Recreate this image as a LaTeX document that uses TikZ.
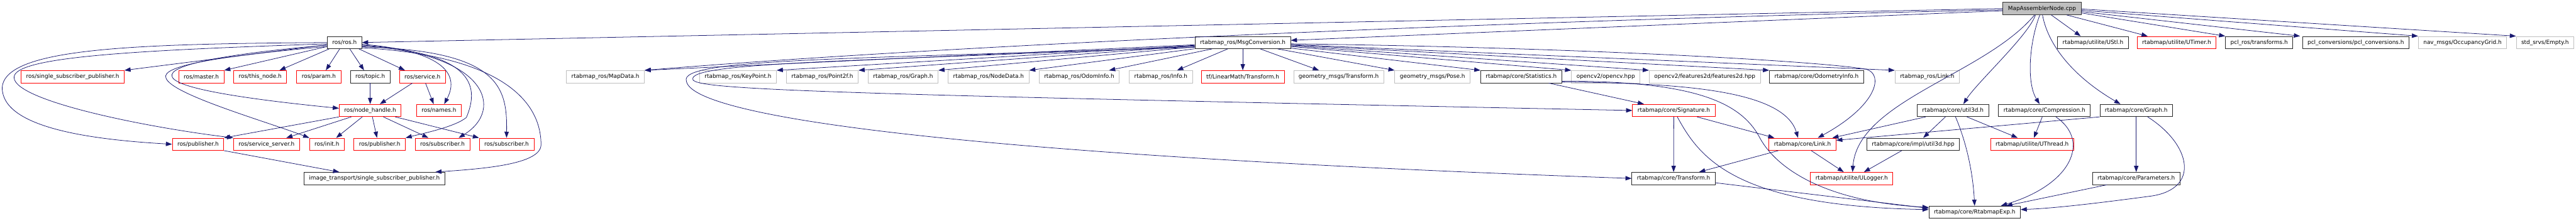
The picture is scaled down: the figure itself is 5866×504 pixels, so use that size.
\documentclass[tikz,border=0pt]{standalone}
\usepackage{fontspec}
\setmainfont{DejaVu Sans}
\usetikzlibrary{arrows.meta,calc,positioning}
\definecolor{depblue}{HTML}{191970}
\definecolor{boxgray}{HTML}{BFBFBF}

\begin{document}
\begin{tikzpicture}[
    x=1pt,
    y=-1pt,
    every node/.style={inner xsep=11.5pt, inner ysep=0pt, minimum height=28pt,
        line width=1.2pt, font=\fontsize{12.8}{15}\selectfont},
    redbox/.style={draw=red},
    blackbox/.style={draw=black!85},
    graybox/.style={draw=boxgray},
    rootbox/.style={draw=black!80, fill=boxgray},
    dep/.style={draw=depblue, line width=1.1pt, -{Triangle[length=14pt,width=10pt]}}
]
\useasboundingbox (0,0) rectangle (5866,504);


% Row 0
\node[rootbox] (root) at (4650,19.5) {MapAssemblerNode.cpp};


% Row 1
\node[blackbox] (rosros) at (784.5,97) {ros/ros.h};
\node[blackbox] (msgconv) at (2830,97) {rtabmap\_ros/MsgConversion.h};
\node[blackbox] (ustl) at (4766,97) {rtabmap/utilite/UStl.h};
\node[redbox] (utimer) at (4956.5,97) {rtabmap/utilite/UTimer.h};
\node[blackbox] (pclros) at (5144.5,97) {pcl\_ros/transforms.h};
\node[blackbox] (pclconv) at (5364.5,97) {pcl\_conversions/pcl\_conversions.h};
\node[graybox] (occgrid) at (5607.5,97) {nav\_msgs/OccupancyGrid.h};
\node[graybox] (empty) at (5795.5,97) {std\_srvs/Empty.h};


% Row 2
\node[redbox] (rossingle) at (165.5,175) {ros/single\_subscriber\_publisher.h};
\node[redbox] (master) at (458.5,175) {ros/master.h};
\node[redbox] (thisnode) at (592.5,175) {ros/this\_node.h};
\node[redbox] (param) at (726,175) {ros/param.h};
\node[blackbox] (topic) at (843,175) {ros/topic.h};
\node[redbox] (service) at (962,175) {ros/service.h};
\node[graybox] (mapdata) at (1378.5,175) {rtabmap\_ros/MapData.h};
\node[graybox] (keypoint) at (1680.5,175) {rtabmap\_ros/KeyPoint.h};
\node[graybox] (point2f) at (1872.5,175) {rtabmap\_ros/Point2f.h};
\node[graybox] (graphmsg) at (2056.5,175) {rtabmap\_ros/Graph.h};
\node[graybox] (nodedata) at (2251,175) {rtabmap\_ros/NodeData.h};
\node[graybox] (odominfo) at (2457.5,175) {rtabmap\_ros/OdomInfo.h};
\node[graybox] (info) at (2643.5,175) {rtabmap\_ros/Info.h};
\node[redbox] (tftrans) at (2830,175) {tf/LinearMath/Transform.h};
\node[graybox] (geotrans) at (3048.5,175) {geometry\_msgs/Transform.h};
\node[graybox] (geopose) at (3262,175) {geometry\_msgs/Pose.h};
\node[blackbox] (stats) at (3464,175) {rtabmap/core/Statistics.h};
\node[graybox] (opencv) at (3656.5,175) {opencv2/opencv.hpp};
\node[graybox] (features) at (3882,175) {opencv2/features2d/features2d.hpp};
\node[blackbox] (odometry) at (4136.5,175) {rtabmap/core/OdometryInfo.h};
\node[graybox] (roslink) at (4388.5,175) {rtabmap\_ros/Link.h};


% Row 3
\node[redbox] (nodehandle) at (843,252) {ros/node\_handle.h};
\node[redbox] (names) at (999.5,252) {ros/names.h};
\node[redbox] (signature) at (3811.5,252) {rtabmap/core/Signature.h};
\node[blackbox] (util3d) at (4447,252) {rtabmap/core/util3d.h};
\node[blackbox] (compression) at (4655.5,252) {rtabmap/core/Compression.h};
\node[blackbox] (coregraph) at (4864.5,252) {rtabmap/core/Graph.h};


% Row 4
\node[redbox] (pubA) at (451,329) {ros/publisher.h};
\node[redbox] (srvserver) at (607,329) {ros/service\_server.h};
\node[redbox] (init) at (744.5,329) {ros/init.h};
\node[redbox] (pubB) at (864.5,329) {ros/publisher.h};
\node[redbox] (subA) at (1007.5,329) {ros/subscriber.h};
\node[redbox] (subB) at (1153.5,329) {ros/subscriber.h};
\node[redbox] (corelink) at (4104.5,329) {rtabmap/core/Link.h};
\node[blackbox] (util3dhpp) at (4356.5,329) {rtabmap/core/impl/util3d.hpp};
\node[redbox] (uthread) at (4627.5,329) {rtabmap/utilite/UThread.h};


% Row 5
\node[blackbox] (imgsingle) at (852.5,407) {image\_transport/single\_subscriber\_publisher.h};
\node[blackbox] (coretrans) at (3811,407) {rtabmap/core/Transform.h};
\node[redbox] (ulogger) at (4216.5,407) {rtabmap/utilite/ULogger.h};
\node[blackbox] (params) at (4864.5,407) {rtabmap/core/Parameters.h};


% Row 6
\node[blackbox] (rtabexp) at (4496.5,484) {rtabmap/core/RtabmapExp.h};


% Includes of the node file
\draw[dep] (root.west) -- (rosros.east);
\draw[dep] ([yshift=-3pt]root.west) .. controls (3500,45) and (2200,100) .. (mapdata.north east);
\draw[dep] ([yshift=-5pt]root.west) -- ([yshift=5pt]msgconv.east);
\draw[dep] ([xshift=-15pt]root.south) .. controls (4620,80) and (4500,190) .. ([xshift=24pt]util3d.north);
\draw[dep] ([xshift=-17pt]root.south) .. controls (4520,170) and (4230,230) .. ([xshift=2pt]ulogger.north);
\draw[dep] ([xshift=-5pt]root.south) .. controls (4620,100) and (4615,190) .. ([xshift=-11pt]compression.north);
\draw[dep] ([xshift=1pt]root.south) .. controls (4665,110) and (4730,180) .. ([xshift=-36pt]coregraph.north);
\draw[dep] ([xshift=21pt]root.south) -- ([xshift=-28pt]ustl.north);
\draw[dep] ([xshift=56pt]root.south) -- ([xshift=-66pt]utimer.north);
\draw[dep] ([yshift=-10pt]root.east) -- (pclros.north west);
\draw[dep] ([yshift=-7pt]root.east) -- ([xshift=-5pt]pclconv.north west);
\draw[dep] ([yshift=-4pt]root.east) -- (occgrid.north west);
\draw[dep] ([yshift=-1pt]root.east) -- (empty.north west);


% MsgConversion
\draw[dep] (msgconv) -- (mapdata.north east);
\draw[dep] (msgconv) -- (keypoint.north east);
\draw[dep] (msgconv) -- (point2f.north east);
\draw[dep] (msgconv) -- (graphmsg.north east);
\draw[dep] (msgconv) -- (nodedata.north east);
\draw[dep] (msgconv) -- ([xshift=68pt]odominfo.north);
\draw[dep] (msgconv) -- ([xshift=37pt]info.north);
\draw[dep] (msgconv) -- (tftrans);
\draw[dep] (msgconv) -- ([xshift=-45pt]geotrans.north);
\draw[dep] (msgconv) -- (geopose.north west);
\draw[dep] (msgconv) -- (stats.north west);
\draw[dep] (msgconv) -- (opencv.north west);
\draw[dep] (msgconv) -- (features.north west);
\draw[dep] (msgconv) -- (odometry.north west);
\draw[dep] (msgconv) -- (roslink.north west);
\draw[dep] ([yshift=-8pt]msgconv.west) .. controls (2000,140) and (1560,140) .. (1578,182)
    .. controls (1590,205) and (1900,215) .. (signature.west);
\draw[dep] ([yshift=-11pt]msgconv.west) .. controls (1900,135) and (1545,135) .. (1563,185)
    .. controls (1575,260) and (2100,350) .. (coretrans.west);
\draw[dep] ([yshift=-3pt]msgconv.east) .. controls (3600,108) and (4150,140) .. (4250,158)
    .. controls (4290,170) and (4275,240) .. ([xshift=35pt]corelink.north);


% rtabmap core
\draw[dep] ([xshift=63pt]stats.south) -- ([xshift=-68pt]signature.north);
\draw[dep] ([yshift=-12pt]stats.east) .. controls (3800,190) and (4060,200) .. ([xshift=-10pt]corelink.north);
\draw[dep] ([yshift=-10pt]stats.east) .. controls (3850,185) and (3960,230) .. (4005,310)
    .. controls (4040,380) and (4150,460) .. ([yshift=11pt]rtabexp.west);

\draw[dep] (signature) -- (coretrans);
\draw[dep] ([xshift=53pt]signature.south) -- ([xshift=-64pt]corelink.north);
\draw[dep] ([xshift=8pt]signature.south) .. controls (3870,360) and (3950,470) .. ([yshift=6pt]rtabexp.west);
\draw[dep] ([yshift=-10pt]coretrans.east) -- ([yshift=9pt]rtabexp.west);

\draw[dep] ([xshift=-55pt]corelink.south) -- ([xshift=58pt]coretrans.north);
\draw[dep] ([xshift=20pt]corelink.south) -- ([xshift=-18pt]ulogger.north);
\draw[dep] ([xshift=-26pt]util3dhpp.south) -- ([xshift=28pt]ulogger.north);

\draw[dep] ([xshift=-62pt]util3d.south) -- ([xshift=68pt]corelink.north);
\draw[dep] ([xshift=-17pt]util3d.south) -- ([xshift=23pt]util3dhpp.north);
\draw[dep] ([xshift=32pt]util3d.south) -- ([xshift=-33pt]uthread.north);
\draw[dep] ([xshift=6pt]util3d.south) .. controls (4480,330) and (4493,400) .. (rtabexp.north);

\draw[dep] ([xshift=-5pt]compression.south) -- ([xshift=4pt]uthread.north);
\draw[dep] ([xshift=26pt]compression.south) .. controls (4760,320) and (4720,420) .. ([xshift=60pt]rtabexp.north);

\draw[dep] (coregraph) -- (params);
\draw[dep] (coregraph.south west) -- ([yshift=9pt]corelink.east);
\draw[dep] ([xshift=26pt]coregraph.south) .. controls (4990,330) and (5010,430) .. (4900,447)
    .. controls (4780,463) and (4680,475) .. ([yshift=6pt]rtabexp.east);
\draw[dep] ([xshift=-67pt]params.south) -- ([xshift=72pt]rtabexp.north);


% ros headers
\draw[dep] (rosros) -- (rossingle.north east);
\draw[dep] (rosros) -- (master.north east);
\draw[dep] ([xshift=-35pt]rosros.south) -- ([xshift=44pt]thisnode.north);
\draw[dep] ([xshift=-11pt]rosros.south) -- ([xshift=16pt]param.north);
\draw[dep] ([xshift=12pt]rosros.south) -- ([xshift=-14pt]topic.north);
\draw[dep] ([xshift=33pt]rosros.south) -- ([xshift=-40pt]service.north);

\draw[dep] (rosros.west) .. controls (300,100) and (10,110) .. (5,200)
    .. controls (5,290) and (200,318) .. (pubA.west);
\draw[dep] ([yshift=-3pt]rosros.west) .. controls (300,115) and (30,130) .. (32,177)
    .. controls (34,230) and (330,290) .. (srvserver.north west);
\draw[dep] ([yshift=-6pt]rosros.west) .. controls (520,122) and (380,148) .. (392,175)
    .. controls (402,205) and (600,230) .. ([yshift=5pt]nodehandle.west);
\draw[dep] ([yshift=-9pt]rosros.west) .. controls (500,128) and (365,150) .. (378,178)
    .. controls (390,215) and (600,275) .. (init.north west);

\draw[dep] ([yshift=-4pt]rosros.east) .. controls (1000,115) and (1050,165) .. ([xshift=12pt]names.north);
\draw[dep] ([yshift=-6pt]rosros.east) .. controls (1070,120) and (1095,190) .. (1062,268)
    .. controls (1035,290) and (960,305) .. (pubB.north east);
\draw[dep] ([yshift=-8pt]rosros.east) .. controls (1110,120) and (1150,250) .. ([xshift=37pt]subA.north);
\draw[dep] ([yshift=-10pt]rosros.east) .. controls (1140,115) and (1155,200) .. (subB.north);
\draw[dep] ([yshift=-12pt]rosros.east) .. controls (1200,130) and (1232,270) .. (1232,330)
    .. controls (1232,375) and (1100,385) .. ([xshift=-22pt]imgsingle.north east);

\draw[dep] (topic) -- (nodehandle);
\draw[dep] ([xshift=-23pt]service.south) -- ([xshift=22pt]nodehandle.north);
\draw[dep] ([xshift=7pt]service.south) -- ([xshift=-12pt]names.north);

\draw[dep] (nodehandle.south west) -- (pubA.north east);
\draw[dep] ([xshift=-43pt]nodehandle.south) -- ([xshift=45pt]srvserver.north);
\draw[dep] ([xshift=-18pt]nodehandle.south) -- ([xshift=21pt]init.north);
\draw[dep] ([xshift=5pt]nodehandle.south) -- ([xshift=-6pt]pubB.north);
\draw[dep] ([xshift=30pt]nodehandle.south) -- ([xshift=-32pt]subA.north);
\draw[dep] ([xshift=57pt]nodehandle.south) -- (subB.north west);

\draw[dep] (pubA.south east) -- ([xshift=-80pt]imgsingle.north);


\end{tikzpicture}
\end{document}
